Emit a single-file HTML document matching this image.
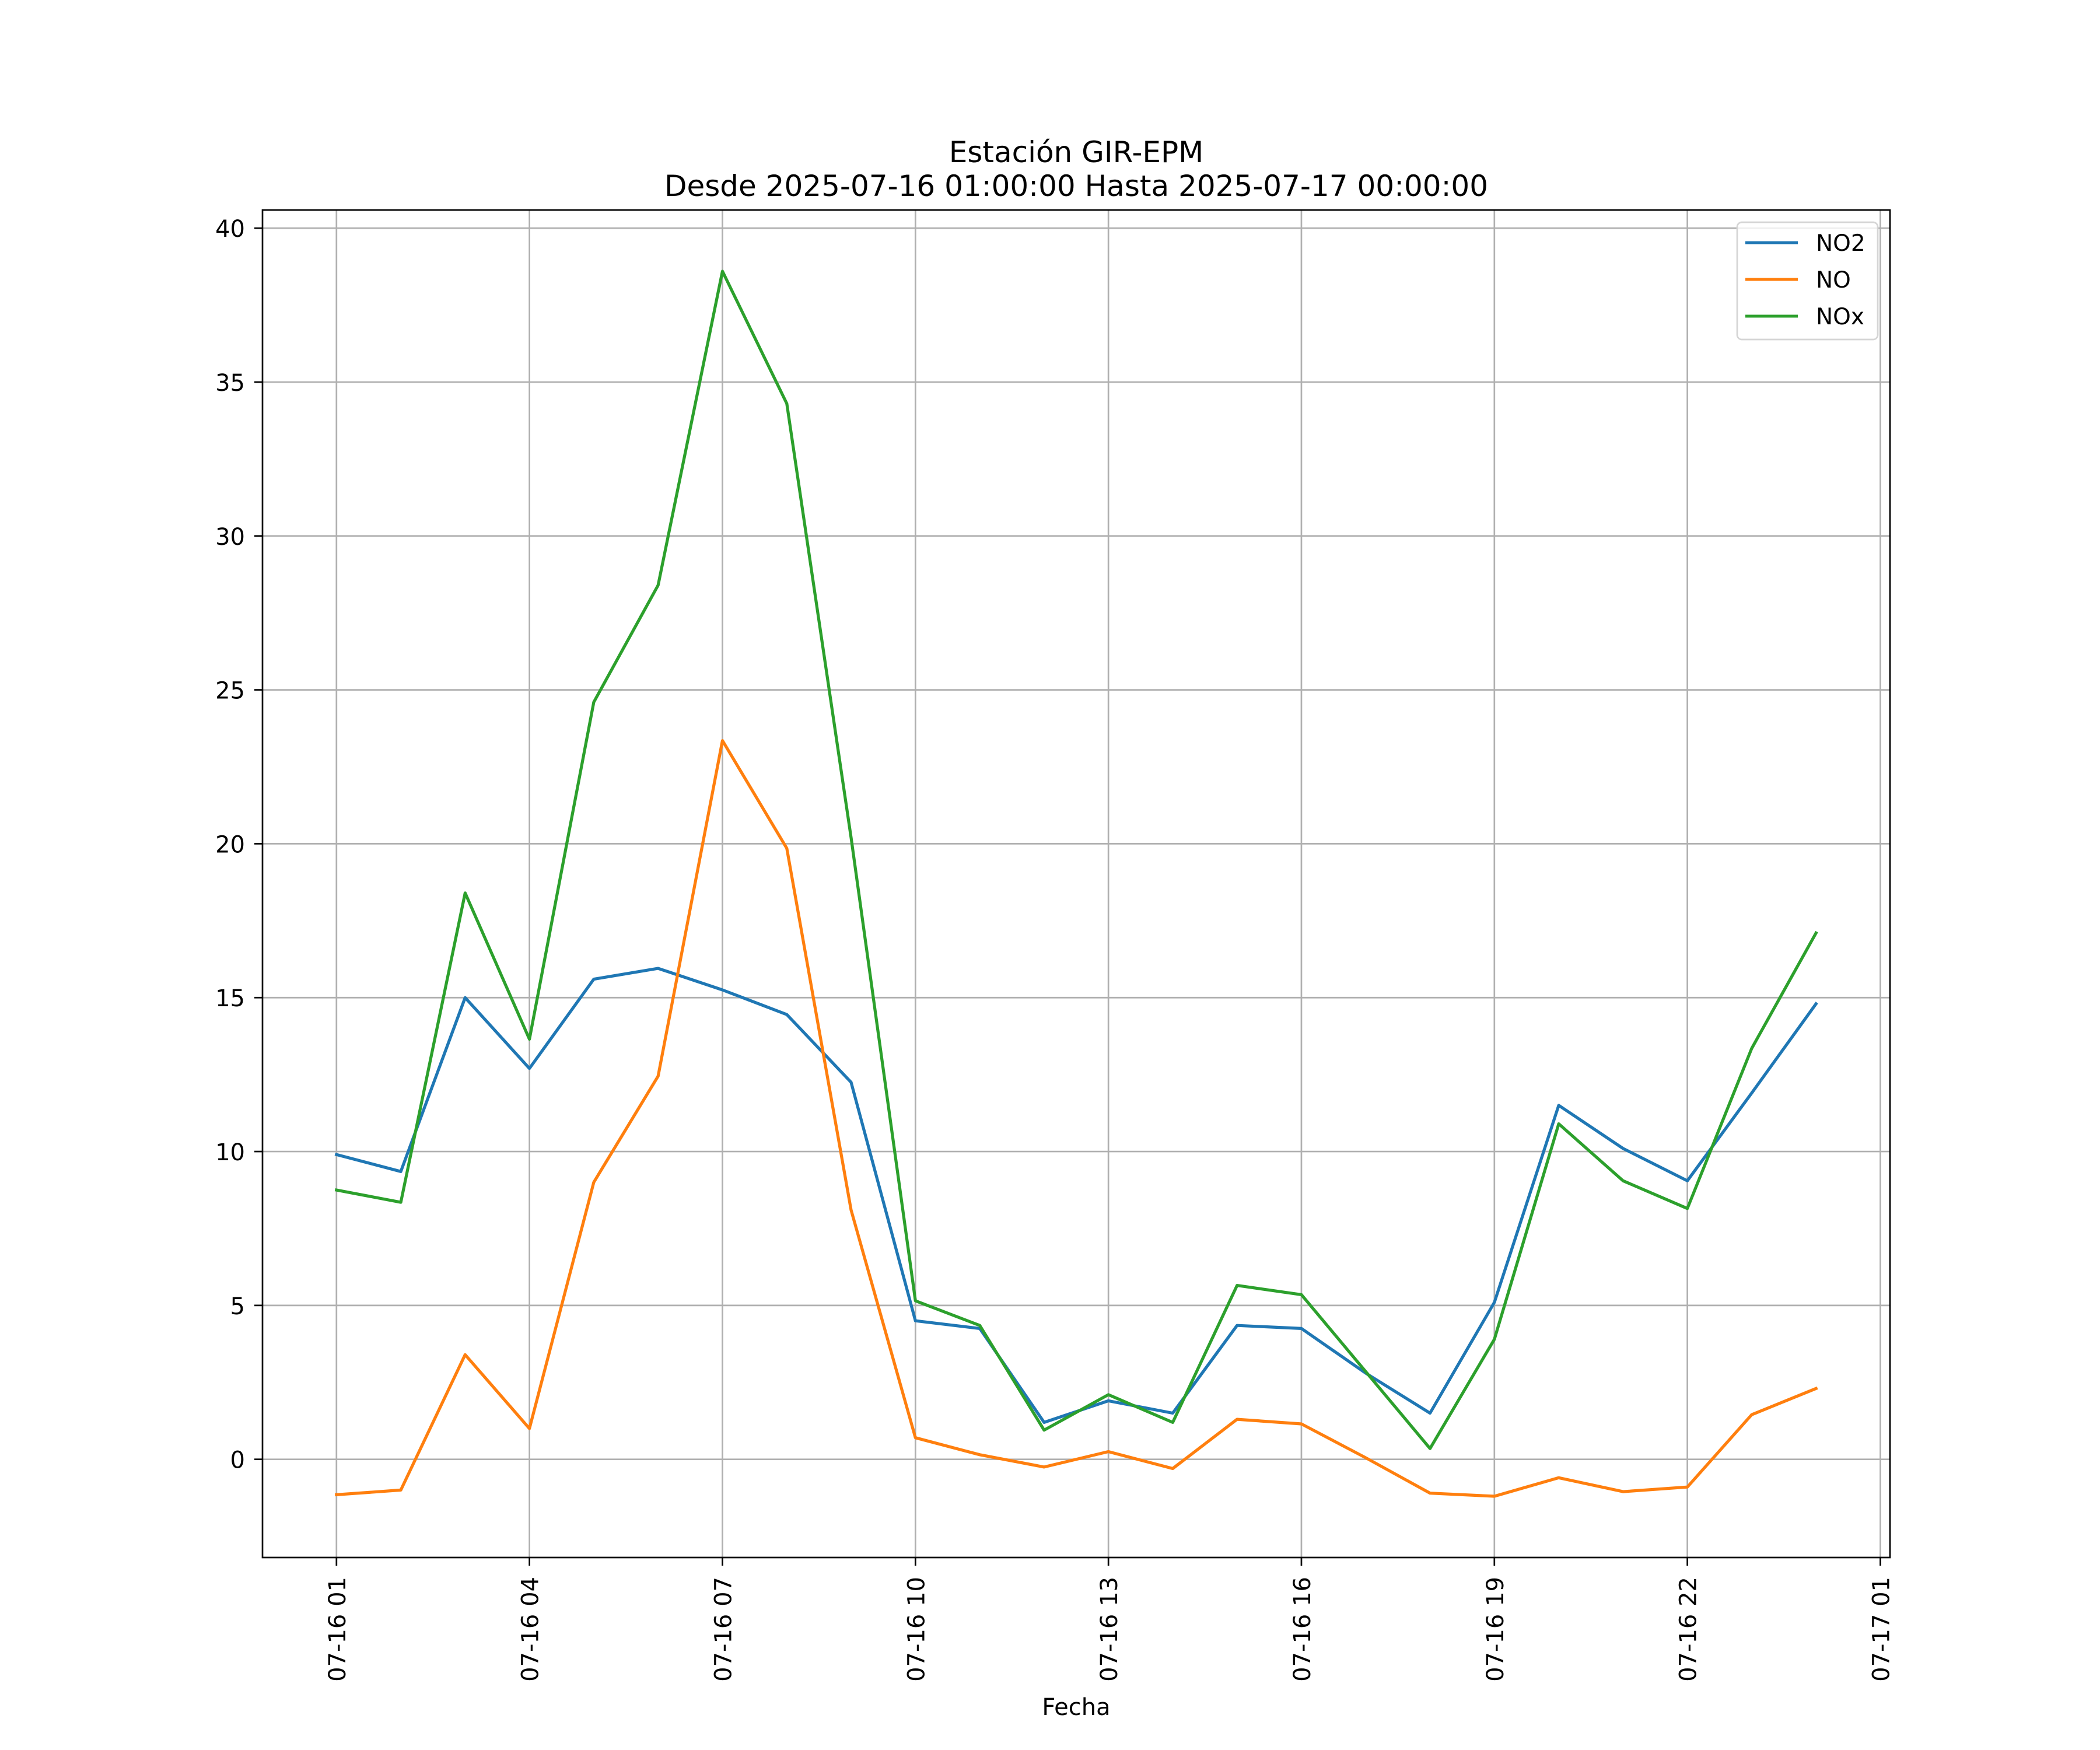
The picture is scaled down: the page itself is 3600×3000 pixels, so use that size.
<!DOCTYPE html>
<html><head><meta charset="utf-8"><style>
html,body{margin:0;padding:0;background:#fff;}
svg{display:block;font-family:"DejaVu Sans","Liberation Sans",sans-serif;}
</style></head><body>
<svg id="chart" width="3600" height="3000" viewBox="0 0 3600 3000" xmlns="http://www.w3.org/2000/svg">
<rect width="3600" height="3000" fill="#fff"/>
<g id="grid"></g>
<g id="series"></g>
<rect x="450" y="360" width="2790" height="2310" fill="none" stroke="#000" stroke-width="2.7"/>
<g id="ticks"></g>
<text x="1845" y="278" font-size="50" text-anchor="middle">Estación GIR-EPM</text>
<text x="1845" y="336" font-size="50" text-anchor="middle">Desde 2025-07-16 01:00:00 Hasta 2025-07-17 00:00:00</text>
<text x="1845" y="2940" font-size="40" text-anchor="middle">Fecha</text>
<g id="legend">
<rect x="2978" y="381" width="241" height="201" rx="8" fill="#fff" fill-opacity="0.8" stroke="#d5d5d5" stroke-width="2.7"/>
</g>
</svg>
<script>
const hours = [1,2,3,4,5,6,7,8,9,10,11,12,13,14,15,16,17,18,19,20,21,22,23,24];
const no2 = [9.9,9.35,15.0,12.7,15.6,15.95,15.25,14.45,12.25,4.5,4.25,1.2,1.9,1.5,4.35,4.25,2.8,1.5,5.1,11.5,10.1,9.05,11.9,14.8];
const no = [-1.15,-1.0,3.4,1.0,9.0,12.45,23.35,19.85,8.1,0.7,0.15,-0.25,0.25,-0.3,1.3,1.15,0.05,-1.1,-1.2,-0.6,-1.05,-0.9,1.45,2.3];
const nox = [8.75,8.35,18.4,13.65,24.6,28.4,38.6,34.3,20.2,5.15,4.35,0.95,2.1,1.2,5.65,5.35,2.85,0.35,3.9,10.9,9.05,8.15,13.35,17.1];
const yTicks = [0,5,10,15,20,25,30,35,40];
const xTickHours = [1,4,7,10,13,16,19,22,25];
const xTickLabels = ["07-16 01","07-16 04","07-16 07","07-16 10","07-16 13","07-16 16","07-16 19","07-16 22","07-17 01"];
const seriesNames = ["NO2","NO","NOx"];
const seriesColors = ["#1f77b4","#ff7f0e","#2ca02c"];

const NS="http://www.w3.org/2000/svg";
const L=450,R=3240,T=360,B=2670;
const X=h=>L+(h-(-0.15))/(25.15-(-0.15))*(R-L);
const all=no2.concat(no,nox);
const dmin=Math.min(...all),dmax=Math.max(...all),pad=(dmax-dmin)*0.05;
const ymin=dmin-pad,ymax=dmax+pad;
const Y=v=>B-(v-ymin)/(ymax-ymin)*(B-T);
function mk(tag,attrs,parent){const e=document.createElementNS(NS,tag);for(const k in attrs)e.setAttribute(k,attrs[k]);parent.appendChild(e);return e;}
const grid=document.getElementById('grid'),ticks=document.getElementById('ticks'),ser=document.getElementById('series'),leg=document.getElementById('legend');
yTicks.forEach(v=>{
  const y=Y(v);
  const g=mk('line',{x1:L,x2:R,y1:y,y2:y,stroke:'#b0b0b0','stroke-width':2.7},grid);
  
  
  const t=mk('line',{x1:L-14,x2:L,y1:y,y2:y,stroke:'#000','stroke-width':2.7},ticks);
  
  
  const tx=mk('text',{x:L-30,y:y+15,'font-size':40,'text-anchor':'end'},ticks);
  tx.textContent=v;
  
  
});
xTickHours.forEach((h,i)=>{
  const x=X(h);
  const g=mk('line',{x1:x,x2:x,y1:T,y2:B,stroke:'#b0b0b0','stroke-width':2.7},grid);
  
  
  const t=mk('line',{x1:x,x2:x,y1:B,y2:B+14,stroke:'#000','stroke-width':2.7},ticks);
  
  
  const tx=mk('text',{x:0,y:0,'font-size':40,'text-anchor':'end',transform:`translate(${x+15},${B+33}) rotate(-90)`},ticks);
  tx.textContent=xTickLabels[i];
  
  
});
[no2,no,nox].forEach((d,si)=>{
  const pts=d.map((v,i)=>X(hours[i]).toFixed(1)+','+Y(v).toFixed(1)).join(' ');
  const p=mk('polyline',{points:pts,fill:'none',stroke:seriesColors[si],'stroke-width':5.2,'stroke-linejoin':'round','stroke-linecap':'square'},ser);
  
  
  const ly=416+si*63;
  const ll=mk('line',{x1:2992,x2:3082,y1:ly,y2:ly,stroke:seriesColors[si],'stroke-width':5},leg);
  
  
  const lt=mk('text',{x:3113,y:ly+14,'font-size':39},leg);
  lt.textContent=seriesNames[si];
  
  
});
</script>
</body></html>
